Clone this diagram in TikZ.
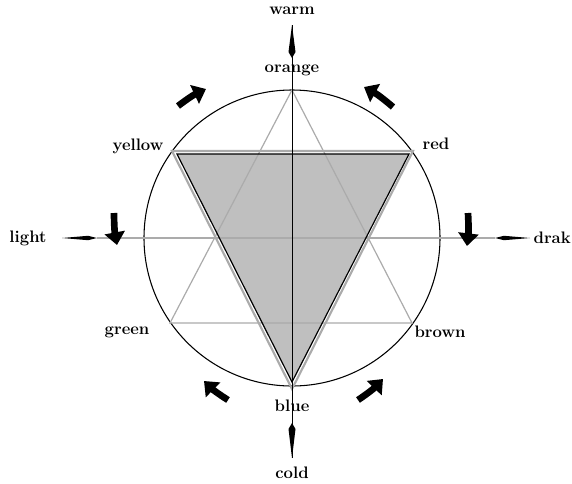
\documentclass[tikz,border=0pt]{standalone}
\usetikzlibrary{arrows.meta}
\begin{document}
\begin{tikzpicture}[x=0.75pt,y=-0.75pt,
  font=\fontsize{12.5}{14}\selectfont\bfseries,
  lbl/.style={inner sep=0pt},
  greyline/.style={draw=black!33, line width=0.9pt},
  turn/.style={line width=5pt, -{Triangle[length=9.5pt,width=15pt]}},
  spike/.style={fill=black, draw=none},
]
\useasboundingbox (0,0) rectangle (572,483);
% wheel points
\coordinate (c) at (292,238);
\coordinate (or) at (292,90);
\coordinate (gr) at (170,323);
\coordinate (br) at (412,323);
\coordinate (ye) at (177,154);
\coordinate (re) at (409,154);
\coordinate (bl) at (292,382);
% axis ends
\coordinate (wt) at (292,25);
\coordinate (ct) at (292,458);
\coordinate (lt) at (97,238);
\coordinate (dt) at (495,238);

\draw[line width=0.8pt] (c) circle[radius=148];
\draw[greyline, line width=1.6pt] (172,151) -- (413,151) -- (292,389) -- cycle;
\fill[black!25] (ye) -- (re) -- (bl) -- cycle;
\draw[greyline] (or) -- (gr) -- (br) -- cycle;
\draw[greyline] (lt) -- (dt);
\draw[line width=0.9pt] (ye) -- (re) -- (bl) -- cycle;
\draw[line width=0.5pt] (wt) -- (ct);

% axis spikes
\fill[spike] (wt) -- (295.5,52) -- (292,58) -- (288.5,52) -- cycle;
\fill[spike] (ct) -- (295.5,429) -- (292,423) -- (288.5,429) -- cycle;
\fill[spike] (62,238) -- (88,235.8) -- (lt) -- (88,240.2) -- cycle;
\fill[spike] (530,238) -- (504,235.8) -- (dt) -- (504,240.2) -- cycle;

% turning arrows
\draw[turn] (178,106) to[bend left=6] (206,89);
\draw[turn] (393,107) to[bend right=6] (364,87);
\draw[turn] (114,213) to[bend right=5] (117,245);
\draw[turn] (468,213) to[bend left=5] (467,246);
\draw[turn] (228,400) to[bend left=6] (204,381);
\draw[turn] (358,400) to[bend right=6] (383,379);

% labels
\node[lbl] (warm) at (292,11) {warm};
\node[lbl] (orange) at (292,70) {orange};
\node[lbl] (red) at (436,144) {red};
\node[lbl] (yellow) at (138,146) {yellow};
\node[lbl] (light) at (28,238) {light};
\node[lbl, anchor=east] (drak) at (571,238) {drak};
\node[lbl] (green) at (127,332) {green};
\node[lbl] (brown) at (440,332) {brown};
\node[lbl] (blue) at (292,406) {blue};
\node[lbl] (cold) at (292,473) {cold};
\end{tikzpicture}
\end{document}
